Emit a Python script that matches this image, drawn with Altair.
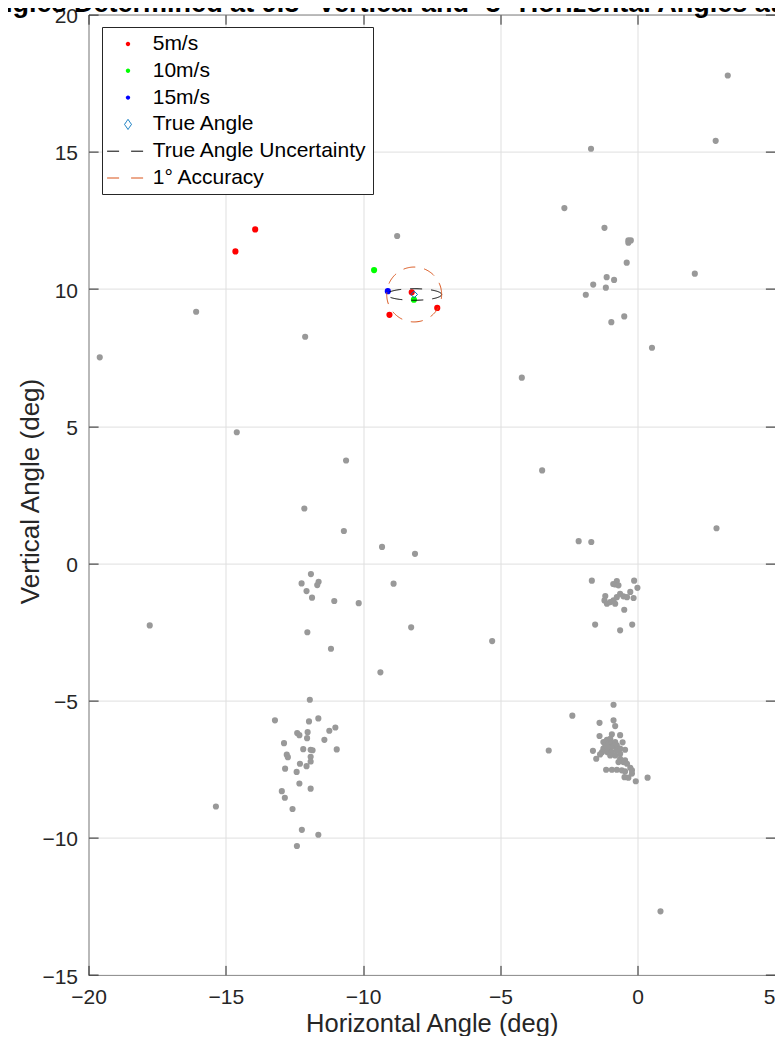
import numpy as np
import pandas as pd
import altair as alt

# ---------------- data ----------------
gray_x = [3.28, 2.84, -1.70, -2.67, -1.21, -0.34, -0.25, -0.34, -0.40, 2.08, -1.13, -0.86, -1.62, -1.16,
          -1.89, -0.49, -0.96, 0.52, -4.22, -3.48, 2.87, -2.15, -1.69,
          -8.76, -16.08, -19.59, -12.11, -14.60, -10.62, -12.14, -10.70, -9.31, -8.11,
          -11.90, -12.24, -11.62, -11.67, -12.06, -11.86, -11.05, -10.16, -12.03, -11.17,
          -8.89, -8.25, -9.37, -5.30, -17.77,
          -11.94, -13.21, -11.97, -11.63, -11.01, -11.23, -12.40, -12.32, -12.02, -12.04, -11.41, -12.88,
          -10.96, -12.18, -11.91, -11.84, -12.78, -12.74, -11.91, -11.91, -12.30, -12.06, -12.84, -12.42,
          -12.32, -11.91, -12.96, -12.85, -12.57, -12.23, -11.63, -12.41, -15.36,
          -1.67, -0.13, -0.01, -0.76, -0.82, -0.70, -0.27, -0.64, -0.52, -0.39, -0.15, -1.18, -1.21, -1.12,
          -1.00, -0.88, -0.82, -0.76, -0.49, -1.55, -0.64, -0.20, -0.89,
          -0.88, -2.38, -1.39, -0.88, -0.82, -1.39, -0.64, -0.94, -0.55, -1.25, -1.12, -1.00, -1.18, -1.06,
          -0.94, -0.82, -1.25, -1.12, -1.00, -0.88, -0.76, -1.30, -1.10, -0.94, -0.76, -0.64, -1.00, -0.82,
          -0.64, -0.46, -1.63, -1.51, -1.37, -0.64, -0.52, -0.70, -0.46, -0.39, -0.27, -0.21, -1.15, -0.94,
          -0.76, -0.58, -0.46, -0.48, -0.34, -0.21, -0.07, 0.36, -3.24, 0.83]
gray_y = [17.78, 15.40, 15.11, 12.95, 12.23, 11.77, 11.77, 11.69, 10.96, 10.56, 10.43, 10.33, 10.16, 10.05,
          9.79, 9.00, 8.79, 7.86, 6.77, 3.39, 1.28, 0.81, 0.78,
          11.93, 9.17, 7.51, 8.26, 4.78, 3.75, 2.00, 1.18, 0.60, 0.35,
          -0.39, -0.73, -0.67, -0.79, -1.01, -1.25, -1.37, -1.45, -2.51, -3.11,
          -0.74, -2.33, -3.97, -2.83, -2.26,
          -4.97, -5.72, -5.76, -5.65, -5.98, -6.10, -6.18, -6.26, -6.15, -6.37, -6.43, -6.55,
          -6.78, -6.77, -6.79, -6.81, -6.97, -7.06, -7.05, -7.22, -7.30, -7.39, -7.48, -7.60,
          -8.02, -8.21, -8.30, -8.54, -8.95, -9.71, -9.89, -10.30, -8.86,
          -0.63, -0.63, -0.89, -0.64, -0.77, -0.80, -1.04, -1.11, -1.20, -1.23, -1.26, -1.19, -1.35, -1.47,
          -1.41, -1.35, -1.47, -1.23, -1.69, -2.23, -2.44, -2.23, -0.75,
          -5.15, -5.55, -5.81, -5.72, -5.93, -6.29, -6.26, -6.23, -6.52, -6.51, -6.43, -6.39, -6.63, -6.57,
          -6.55, -6.51, -6.75, -6.69, -6.72, -6.67, -6.63, -6.88, -6.88, -6.88, -6.81, -6.75, -7.00, -7.00,
          -6.94, -6.79, -6.83, -7.12, -6.96, -7.12, -7.24, -7.24, -7.18, -7.30, -7.45, -7.54, -7.52, -7.52,
          -7.52, -7.54, -7.58, -7.79, -7.81, -7.66, -7.94, -7.81, -6.82, -12.68]

red_x = [-13.93, -14.65, -8.23, -7.30, -9.04]
red_y = [12.17, 11.37, 9.88, 9.31, 9.06]
green_x = [-9.60, -8.15]
green_y = [10.69, 9.61]
blue_x = [-9.10]
blue_y = [9.92]

true_x = [-8.14]
true_y = [9.80]
uncert_half_x = [1.0]
uncert_half_y = [0.21]
accuracy_radius = [1.0]

SERIES = ["5m/s", "10m/s", "15m/s", "True Angle", "True Angle Uncertainty", "1° Accuracy"]
X_TICKS = [-20, -15, -10, -5, 0, 5]
Y_TICKS = [-15, -10, -5, 0, 5, 10, 15, 20]
X_DOMAIN = [-20, 5]
Y_DOMAIN = [-15, 20]
TITLE = "Angles Determined at 9.8° Vertical and -8° Horizontal Angles at 5-15m/s"

# ---------------- styling ----------------
FONT = "Liberation Sans"
AX = "#262626"
W, H = 686.5, 960.4
RED, GREEN, BLUE, DIAMOND, BLACK, ORANGE = "#ff0000", "#00ff00", "#0000ff", "#0072bd", "#000000", "#d95319"
NONE = "transparent"
# legend symbol shapes (unit paths, scaled by half the legend symbol width)
CIRC = "M -0.21 0 A 0.21 0.21 0 1 1 0.21 0 A 0.21 0.21 0 1 1 -0.21 0 Z"
DIAM = "M 0 -0.48 L 0.33 0 L 0 0.48 L -0.33 0 Z"
LINE = "M -1.99 0 L 1.51 0"

fill_scale = alt.Scale(domain=SERIES, range=[RED, GREEN, BLUE, NONE, NONE, NONE])
stroke_scale = alt.Scale(domain=SERIES, range=[NONE, NONE, NONE, DIAMOND, BLACK, ORANGE])
shape_scale = alt.Scale(domain=SERIES, range=[CIRC, CIRC, CIRC, DIAM, LINE, LINE])
dash_scale = alt.Scale(domain=SERIES, range=[[1, 0], [1, 0], [1, 0], [1, 0], [12, 12], [12, 12]])

gray_df = pd.DataFrame({"x": gray_x, "y": gray_y})
speed_df = pd.DataFrame({
    "x": red_x + green_x + blue_x,
    "y": red_y + green_y + blue_y,
    "series": [SERIES[0]] * len(red_x) + [SERIES[1]] * len(green_x) + [SERIES[2]] * len(blue_x),
})
true_df = pd.DataFrame({"x": true_x, "y": true_y})
legend_df = pd.DataFrame({"x": [None] * len(SERIES), "y": [None] * len(SERIES), "series": SERIES})
title_df = pd.DataFrame({"t": [TITLE]})

t = np.linspace(0, 2 * np.pi, 181)
ell_df = pd.DataFrame({
    "x": true_x[0] + uncert_half_x[0] * np.cos(t),
    "y": true_y[0] + uncert_half_y[0] * np.sin(t),
    "i": np.arange(len(t)),
})
circ_df = pd.DataFrame({
    "x": true_x[0] + accuracy_radius[0] * np.cos(t),
    "y": true_y[0] + accuracy_radius[0] * np.sin(t),
    "i": np.arange(len(t)),
})

xs = alt.Scale(domain=X_DOMAIN, nice=False, zero=False)
ys = alt.Scale(domain=Y_DOMAIN, nice=False, zero=False)

legend = alt.Legend(
    title=None, orient="none", legendX=13.5, legendY=12.4,
    fillColor="white", strokeColor=AX, padding=6, cornerRadius=0,
    labelFont=FONT, labelFontSize=21, labelColor="black", labelLimit=400,
    rowPadding=5.8, symbolSize=441, symbolStrokeWidth=1,
    symbolOffset=9, labelOffset=13.7, symbolOpacity=1,
)

main_x = alt.Axis(orient="bottom", values=X_TICKS, ticks=False, domain=False,
                  grid=True, gridColor="#dfdfdf", gridWidth=1, labelFlush=False, labelOverlap=False,
                  labelAlign={"condition": {"test": "datum.value == 5", "value": "right"}, "value": "center"},
                  labelPadding=11, title="Horizontal Angle (deg)", titleX=W / 2, titleY=56,
                  titleFontSize=25.5, titleBaseline="alphabetic", titleAlign="center")
main_y = alt.Axis(orient="left", values=Y_TICKS, ticks=False, domain=False,
                  grid=True, gridColor="#dfdfdf", gridWidth=1, labelFlush=False, labelOverlap=False,
                  labelPadding=11, labelOffset=2, title="Vertical Angle (deg)", titleX=-50, titleY=476.4,
                  titleFontSize=26, titleAngle=270, titleBaseline="alphabetic", titleAlign="center")


def tick_axis(orient, offset, vals):
    return alt.Axis(orient=orient, offset=offset, values=vals, labels=False, domain=False,
                    grid=False, ticks=True, tickSize=9.6, tickColor=AX, tickWidth=1, title=None)


gray = alt.Chart(gray_df).mark_circle(size=38, opacity=1, color="#999999").encode(
    x=alt.X("x:Q", scale=xs, axis=main_x),
    y=alt.Y("y:Q", scale=ys, axis=main_y),
)

speeds = alt.Chart(speed_df).mark_circle(size=38, opacity=1).encode(
    x=alt.X("x:Q", scale=xs, axis=tick_axis("top", -H, X_TICKS)),
    y=alt.Y("y:Q", scale=ys, axis=tick_axis("right", -W, Y_TICKS)),
    fill=alt.Fill("series:N", scale=fill_scale, legend=legend),
)

true_pt = alt.Chart(true_df).mark_point(shape="diamond", size=45, filled=False, strokeWidth=1,
                                        opacity=1, color=DIAMOND).encode(
    x=alt.X("x:Q", scale=xs, axis=tick_axis("bottom", -H, X_TICKS)),
    y=alt.Y("y:Q", scale=ys, axis=tick_axis("left", -W, Y_TICKS)),
)

ell = alt.Chart(ell_df).mark_line(strokeWidth=1, strokeDash=[12, 9], color=BLACK).encode(
    x=alt.X("x:Q", scale=xs, axis=None),
    y=alt.Y("y:Q", scale=ys, axis=None),
    order="i:Q",
)

circ = alt.Chart(circ_df).mark_line(strokeWidth=1, strokeDash=[12, 9], color=ORANGE).encode(
    x=alt.X("x:Q", scale=xs, axis=None),
    y=alt.Y("y:Q", scale=ys, axis=None),
    order="i:Q",
)

legend_layer = alt.Chart(legend_df).mark_point(filled=False, opacity=1, strokeWidth=1).encode(
    x=alt.X("x:Q", scale=xs, axis=None),
    y=alt.Y("y:Q", scale=ys, axis=None),
    fill=alt.Fill("series:N", scale=fill_scale, legend=legend),
    stroke=alt.Stroke("series:N", scale=stroke_scale, legend=legend),
    shape=alt.Shape("series:N", scale=shape_scale, legend=legend),
    strokeDash=alt.StrokeDash("series:N", scale=dash_scale, legend=legend),
)

# title, centred over the plot and running past the page edges as in the reference
title = alt.Chart(title_df).mark_text(font=FONT, fontSize=27, fontWeight="bold", color="black",
                                      align="center", baseline="alphabetic").encode(
    text="t:N", x=alt.value(W / 2), y=alt.value(-2.6),
)

chart = alt.layer(gray, speeds, true_pt, ell, circ, legend_layer, title).resolve_axis(
    x="independent", y="independent"
).properties(
    width=W, height=H,
    autosize=alt.AutoSizeParams(type="none"),
    padding={"left": 80.5, "top": 6.6, "right": 0, "bottom": 61},
).configure_view(
    stroke=AX, strokeWidth=1
).configure_axis(
    labelFont=FONT, titleFont=FONT, labelFontSize=21, titleFontSize=26, titleFontWeight="normal",
    labelColor=AX, titleColor=AX
)

chart.save("out.html", embed_options={"renderer": "svg", "actions": False})
